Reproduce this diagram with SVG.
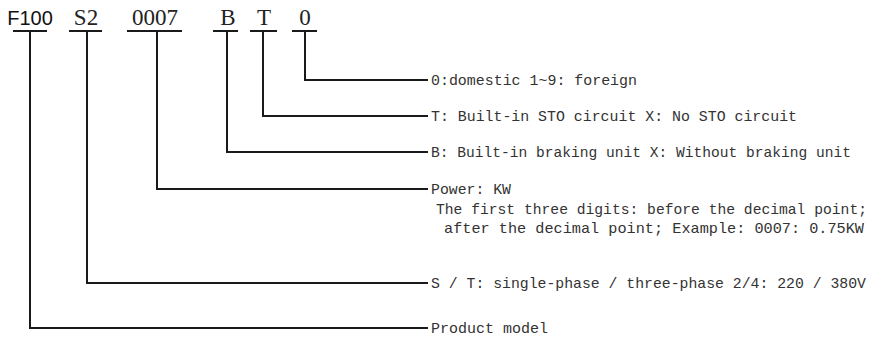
<svg xmlns="http://www.w3.org/2000/svg" width="878" height="341" viewBox="0 0 878 341">
<style>
.code{font-family:"Liberation Serif","DejaVu Serif",serif;font-size:23px;fill:#222;text-anchor:middle}
.codeb{font-family:"Liberation Sans","DejaVu Sans",sans-serif;font-size:20px;fill:#111;text-anchor:middle}
.desc{font-family:"Liberation Mono","DejaVu Sans Mono",monospace;font-size:14.6px;fill:#333}
.ul{stroke:#1a1a1a;stroke-width:2;fill:none}
.conn{stroke:#1a1a1a;stroke-width:2;fill:none}
</style>
<rect width="878" height="341" fill="#ffffff"/>
<g id="code-F100"><text class="codeb" x="30" y="25">F100</text><line class="ul" x1="13" y1="31" x2="47" y2="31"/></g>
<g id="code-S2"><text class="code" x="86" y="25">S2</text><line class="ul" x1="69" y1="31" x2="102" y2="31"/></g>
<g id="code-0007"><text class="code" x="155" y="25">0007</text><line class="ul" x1="127" y1="31" x2="182" y2="31"/></g>
<g id="code-B"><text class="code" x="228" y="25">B</text><line class="ul" x1="213" y1="31" x2="238" y2="31"/></g>
<g id="code-T"><text class="code" x="264" y="25">T</text><line class="ul" x1="250" y1="31" x2="277" y2="31"/></g>
<g id="code-0"><text class="code" x="305" y="25">0</text><line class="ul" x1="292" y1="31" x2="317" y2="31"/></g>
<g id="connectors">
<polyline class="conn" points="305,31 305,80 428,80"/>
<polyline class="conn" points="263,31 263,116 428,116"/>
<polyline class="conn" points="227,31 227,152 428,152"/>
<polyline class="conn" points="157,31 157,189 428,189"/>
<polyline class="conn" points="87,31 87,283 428,283"/>
<polyline class="conn" points="30,31 30,328 428,328"/>
</g>
<g id="label-origin"><text class="desc" x="431" y="85" textLength="206" lengthAdjust="spacingAndGlyphs">0:domestic 1~9: foreign</text></g>
<g id="label-sto"><text class="desc" x="431" y="121" textLength="366" lengthAdjust="spacingAndGlyphs">T: Built-in STO circuit X: No STO circuit</text></g>
<g id="label-brake"><text class="desc" x="431" y="157" textLength="420" lengthAdjust="spacingAndGlyphs">B: Built-in braking unit X: Without braking unit</text></g>
<g id="label-power">
<text class="desc" x="431" y="194" textLength="80" lengthAdjust="spacingAndGlyphs">Power: KW</text>
<text class="desc" x="436" y="214" textLength="431" lengthAdjust="spacingAndGlyphs">The first three digits: before the decimal point;</text>
<text class="desc" x="444" y="233" textLength="420" lengthAdjust="spacingAndGlyphs">after the decimal point;  Example: 0007: 0.75KW</text>
</g>
<g id="label-phase"><text class="desc" x="431" y="288" textLength="435" lengthAdjust="spacingAndGlyphs">S / T: single-phase / three-phase 2/4: 220 / 380V</text></g>
<g id="label-model"><text class="desc" x="431" y="333" textLength="117" lengthAdjust="spacingAndGlyphs">Product model</text></g>
</svg>
